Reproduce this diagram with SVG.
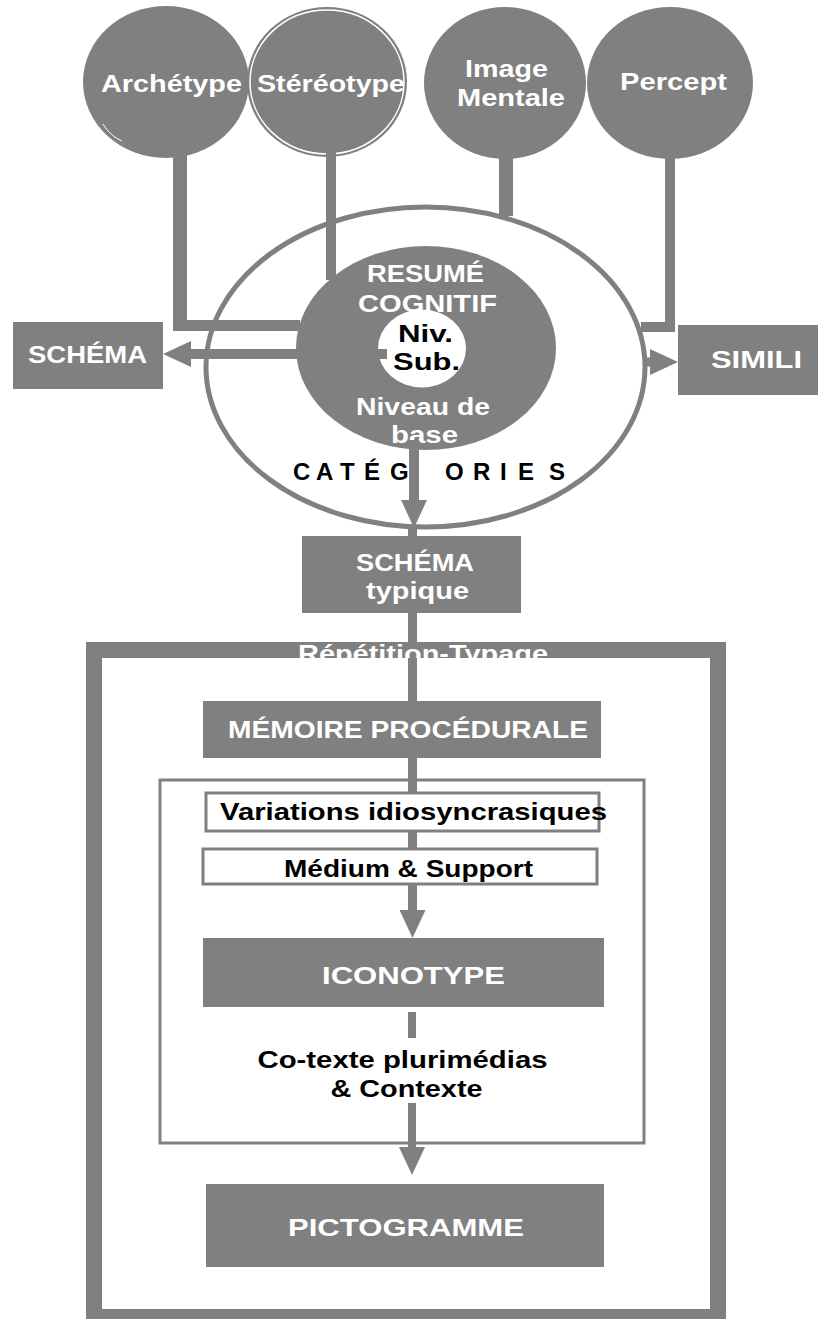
<svg xmlns="http://www.w3.org/2000/svg" width="818" height="1319" viewBox="0 0 818 1319">
<style>
.g{fill:#808080}
.t{font-family:"Liberation Sans",Arial,sans-serif;font-weight:bold;font-size:24px;text-anchor:middle}
.w{fill:#ffffff}
.k{fill:#000000}
.con{stroke:#808080;fill:none}
.box{fill:#ffffff;stroke:#808080;stroke-width:3}
</style>
<defs>
<marker id="arr" markerUnits="userSpaceOnUse" viewBox="0 0 28 26" markerWidth="28" markerHeight="26" refX="0" refY="13" orient="auto">
<path d="M0,0 L28,13 L0,26 Z" fill="#808080"/>
</marker>
<clipPath id="band"><rect x="0" y="600" width="818" height="58"/></clipPath>
</defs>
<rect width="818" height="1319" fill="#ffffff"/>

<g id="archetype">
<ellipse class="g" cx="166" cy="82" rx="83" ry="76"/>
<path d="M103,124 Q110,136 122,141" fill="none" stroke="#ffffff" stroke-width="1"/>
<text class="t w" x="171.5" y="92" textLength="141" lengthAdjust="spacingAndGlyphs">Archétype</text>
</g>
<g id="stereotype">
<ellipse class="g" cx="327" cy="82" rx="80" ry="75"/>
<ellipse cx="327" cy="82" rx="77" ry="72" fill="none" stroke="#ffffff" stroke-width="1.5"/>
<text class="t w" x="331" y="92" textLength="148" lengthAdjust="spacingAndGlyphs">Stéréotype</text>
</g>
<g id="image-mentale">
<ellipse class="g" cx="505" cy="83" rx="81" ry="76"/>
<text class="t w" x="506.5" y="77" textLength="83" lengthAdjust="spacingAndGlyphs">Image</text>
<text class="t w" x="511" y="106" textLength="108" lengthAdjust="spacingAndGlyphs">Mentale</text>
</g>
<g id="percept">
<ellipse class="g" cx="670" cy="83" rx="83" ry="76"/>
<text class="t w" x="673.5" y="90" textLength="107" lengthAdjust="spacingAndGlyphs">Percept</text>
</g>

<g id="categories">
<ellipse cx="425.5" cy="367" rx="219.5" ry="160" fill="none" stroke="#808080" stroke-width="5"/>
<text class="t k" font-size="25" style="text-anchor:start" x="293 316 340 364 390 445 473 500 518 549" y="480">CATÉGORIES</text>
</g>
<g id="resume-cognitif">
<ellipse class="g" cx="426" cy="348" rx="130" ry="102"/>
<text class="t w" x="425.5" y="282" textLength="117" lengthAdjust="spacingAndGlyphs">RESUMÉ</text>
<text class="t w" x="427.5" y="312" textLength="139" lengthAdjust="spacingAndGlyphs">COGNITIF</text>
<text class="t w" x="423" y="415" textLength="134" lengthAdjust="spacingAndGlyphs">Niveau de</text>
<text class="t w" x="424.5" y="443" textLength="67" lengthAdjust="spacingAndGlyphs">base</text>
</g>
<g id="niv-sub">
<ellipse cx="422" cy="348.5" rx="44" ry="39" fill="#ffffff"/>
<text class="t k" x="425.5" y="342" textLength="55" lengthAdjust="spacingAndGlyphs">Niv.</text>
<text class="t k" x="426.5" y="370" textLength="67" lengthAdjust="spacingAndGlyphs">Sub.</text>
</g>

<g id="schema">
<rect class="g" x="13" y="322" width="150" height="67"/>
<text class="t w" x="87.5" y="363" textLength="119" lengthAdjust="spacingAndGlyphs">SCHÉMA</text>
</g>
<g id="simili">
<rect class="g" x="678" y="325" width="140" height="70"/>
<text class="t w" x="756.5" y="368" textLength="91" lengthAdjust="spacingAndGlyphs">SIMILI</text>
</g>

<g id="connectors">
<path class="g" d="M173,150 H187 V320 H300 V331 H173 Z"/>
<rect class="g" x="326" y="150" width="10" height="130"/>
<rect class="g" x="499" y="150" width="14" height="66"/>
<path class="g" d="M665,150 H675 V332 H641 V322 H665 Z"/>
<line class="con" x1="387" y1="354" x2="191" y2="354" stroke-width="10" marker-end="url(#arr)"/>
<line class="con" x1="643" y1="362" x2="650" y2="362" stroke-width="9" marker-end="url(#arr)"/>
<line class="con" x1="414" y1="440" x2="414" y2="500" stroke-width="10" marker-end="url(#arr)"/>
<line class="con" x1="412.5" y1="526" x2="412.5" y2="538" stroke-width="9"/>
<line class="con" x1="412.5" y1="611" x2="412.5" y2="703" stroke-width="9"/>
<line class="con" x1="412.5" y1="756" x2="412.5" y2="794" stroke-width="9"/>
<line class="con" x1="412.5" y1="830" x2="412.5" y2="849" stroke-width="9"/>
<line class="con" x1="412.5" y1="884" x2="412.5" y2="910" stroke-width="9" marker-end="url(#arr)"/>
<line class="con" x1="412" y1="1012" x2="412" y2="1038" stroke-width="8"/>
<line class="con" x1="412" y1="1103" x2="412" y2="1147" stroke-width="8" marker-end="url(#arr)"/>
</g>

<g id="schema-typique">
<rect class="g" x="302" y="536" width="219" height="77"/>
<text class="t w" x="415" y="571" textLength="118" lengthAdjust="spacingAndGlyphs">SCHÉMA</text>
<text class="t w" x="417.5" y="599" textLength="103" lengthAdjust="spacingAndGlyphs">typique</text>
</g>

<g id="repetition-typage">
<rect x="94" y="650" width="624" height="667" fill="none" stroke="#808080" stroke-width="16"/>
<text class="t w" x="423" y="662" textLength="250" lengthAdjust="spacingAndGlyphs" clip-path="url(#band)">Répétition-Typage</text>
</g>

<g id="memoire-procedurale">
<rect class="g" x="203" y="701" width="398" height="57"/>
<text class="t w" x="408" y="738" textLength="360" lengthAdjust="spacingAndGlyphs">MÉMOIRE PROCÉDURALE</text>
</g>

<g id="contexte-frame">
<rect x="160" y="780" width="484" height="363" fill="none" stroke="#808080" stroke-width="3"/>
</g>

<g id="variations">
<rect class="box" x="206" y="793" width="393" height="38"/>
<text class="t k" x="413.5" y="820" textLength="387" lengthAdjust="spacingAndGlyphs">Variations idiosyncrasiques</text>
</g>
<g id="medium-support">
<rect class="box" x="203" y="849" width="394" height="35"/>
<text class="t k" x="408.5" y="877" textLength="249" lengthAdjust="spacingAndGlyphs">Médium &amp; Support</text>
</g>

<g id="iconotype">
<rect class="g" x="203" y="938" width="401" height="69"/>
<text class="t w" x="413.5" y="984" font-size="27" textLength="183" lengthAdjust="spacingAndGlyphs">ICONOTYPE</text>
</g>

<g id="cotexte">
<text class="t k" x="402.5" y="1068" textLength="290" lengthAdjust="spacingAndGlyphs">Co-texte plurimédias</text>
<text class="t k" x="406.5" y="1097" textLength="152" lengthAdjust="spacingAndGlyphs">&amp; Contexte</text>
</g>

<g id="pictogramme">
<rect class="g" x="206" y="1184" width="398" height="83"/>
<text class="t w" x="406" y="1236" font-size="28" textLength="236" lengthAdjust="spacingAndGlyphs">PICTOGRAMME</text>
</g>
</svg>
